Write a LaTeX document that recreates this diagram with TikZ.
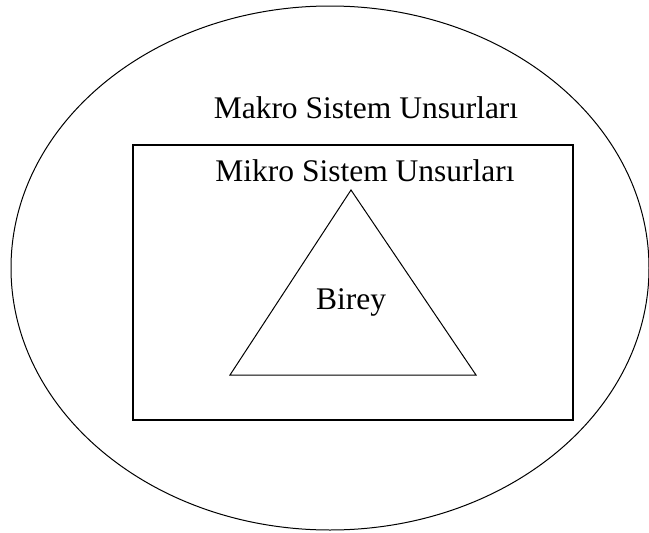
\documentclass[tikz,border=0pt]{standalone}
\usepackage{fontspec}
\setmainfont{Liberation Serif}
\usepackage{tikz}

\begin{document}
\begin{tikzpicture}[x=1pt, y=-1pt, line width=1pt,
    lbl/.style={font=\fontsize{31.5}{36}\selectfont, inner sep=0pt}]

        \useasboundingbox (0,0) rectangle (649,533);

        \coordinate (O) at (330,268);
        \coordinate (r1) at (133,145);
        \coordinate (r2) at (573,420);
        \coordinate (t1) at (351,190);
        \coordinate (t2) at (230,375);
        \coordinate (t3) at (476,375);

        \draw (O) ellipse [x radius=319, y radius=262];
        \draw[line width=1.3pt] (r1) rectangle (r2);
        \draw (t1)--(t2)--(t3)--cycle;

        \node[lbl] (makro) at (366,108) {Makro Sistem Unsurları};
        \node[lbl] (mikro) at (365,171) {Mikro Sistem Unsurları};
        \node[lbl] (birey) at (351,302) {Birey};

    \end{tikzpicture}
\end{document}
